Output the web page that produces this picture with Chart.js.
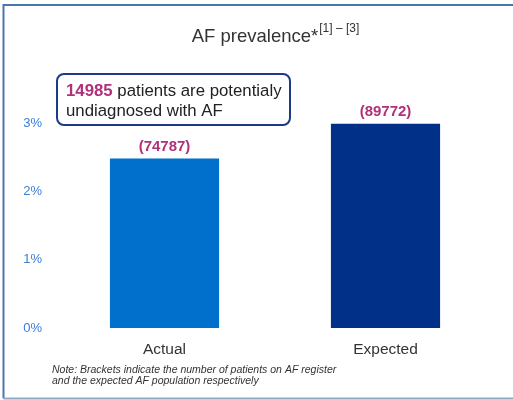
<!DOCTYPE html>
<html>
<head>
<meta charset="utf-8">
<script src="https://cdn.jsdelivr.net/npm/chart.js@4.4.1/dist/chart.umd.min.js"></script>
<style>
  html, body { margin: 0; padding: 0; background: #fff; }
  #wrap { width: 513px; height: 400px; position: relative; }
</style>
</head>
<body>
<div id="wrap"><canvas id="afChart"></canvas></div>
<script>
// --- data ---
const categories = ['Actual', 'Expected'];
const prevalence = [2.48, 2.99];          // % of population
const patientCounts = ['(74787)', '(89772)'];
const yTicks = [0, 1, 2, 3];
const undiagnosed = '14985';

const barColors = ['#0070cc', '#003087'];
const magenta = '#b0307a';
const FONT = '"Liberation Sans", Arial, sans-serif';

// frame, title, callout box and the footnote
const decorations = {
    id: 'decorations',
    beforeDraw(chart) {
        const ctx = chart.ctx;
        ctx.save();
        ctx.fillStyle = '#fff';
        ctx.fillRect(0, 0, chart.width, chart.height);
        ctx.restore();
    },
    afterDraw(chart) {
        const ctx = chart.ctx;
        ctx.save();

        // outer frame (right side runs off the picture)
        ctx.strokeStyle = '#4a76ac';
        ctx.lineWidth = 2;
        ctx.beginPath();
        ctx.moveTo(chart.width + 5, 5);
        ctx.lineTo(3.5, 5);
        ctx.lineTo(3.5, 398.5);
        ctx.stroke();
        ctx.strokeStyle = '#8fa9c6';
        ctx.beginPath();
        ctx.moveTo(3.5, 398.5);
        ctx.lineTo(chart.width + 5, 398.5);
        ctx.stroke();

        // title with superscript refs
        ctx.fillStyle = '#333';
        ctx.textBaseline = 'alphabetic';
        ctx.textAlign = 'left';
        ctx.font = '18.5px ' + FONT;
        const main = 'AF prevalence*';
        const sup = '[1] \u2013 [3]';
        const mw = ctx.measureText(main).width;
        ctx.font = '12px ' + FONT;
        const sw = ctx.measureText(sup).width;
        const tx = 275 - (mw + sw) / 2;
        ctx.font = '18.5px ' + FONT;
        ctx.fillText(main, tx, 42);
        ctx.font = '12px ' + FONT;
        ctx.fillText(sup, tx + mw + 1, 32);

        // callout box
        const bx = 57, by = 74, bw = 233, bh = 51, r = 7;
        ctx.beginPath();
        ctx.roundRect(bx, by, bw, bh, r);
        ctx.fillStyle = '#fff';
        ctx.fill();
        ctx.lineWidth = 2;
        ctx.strokeStyle = '#1b3a87';
        ctx.stroke();

        ctx.font = 'bold 16.8px ' + FONT;
        ctx.fillStyle = magenta;
        ctx.fillText(undiagnosed, 66, 96);
        const nw = ctx.measureText(undiagnosed).width;
        ctx.font = '16.8px ' + FONT;
        ctx.fillStyle = '#222';
        ctx.fillText(' patients are potentialy', 66 + nw, 96);
        ctx.fillText('undiagnosed with AF', 66, 116);

        // note
        ctx.font = 'italic 10.5px ' + FONT;
        ctx.fillStyle = '#333';
        ctx.fillText('Note: Brackets indicate the number of patients on AF register', 52, 373);
        ctx.fillText('and the expected AF population respectively', 52, 384);

        ctx.restore();
    }
};

// counts above bars
const barLabels = {
    id: 'barLabels',
    afterDatasetsDraw(chart) {
        const ctx = chart.ctx;
        const meta = chart.getDatasetMeta(0);
        ctx.save();
        ctx.font = 'bold 15px ' + FONT;
        ctx.fillStyle = magenta;
        ctx.textAlign = 'center';
        ctx.textBaseline = 'bottom';
        meta.data.forEach((bar, i) => {
            ctx.fillText(patientCounts[i], bar.x, bar.y - 4);
        });
        ctx.restore();
    }
};

new Chart(document.getElementById('afChart'), {
    type: 'bar',
    data: {
        labels: categories,
        datasets: [{
            data: prevalence,
            backgroundColor: barColors,
            borderWidth: 0,
            barPercentage: 0.494,
            categoryPercentage: 1
        }]
    },
    options: {
        responsive: true,
        maintainAspectRatio: false,
        animation: false,
        layout: {
            padding: { top: 123, left: 10, right: 17, bottom: 40 }
        },
        plugins: {
            legend: { display: false },
            tooltip: { enabled: false }
        },
        scales: {
            x: {
                grid: { display: false, drawTicks: false },
                border: { display: false },
                ticks: {
                    color: '#333',
                    font: { family: FONT, size: 15.5 },
                    padding: 12
                },
                afterFit: (axis) => { axis.height = 32; }
            },
            y: {
                min: 0,
                max: 3,
                grid: { display: false, drawTicks: false },
                border: { display: false },
                afterBuildTicks: (axis) => {
                    axis.ticks = yTicks.map(v => ({ value: v }));
                },
                ticks: {
                    color: '#3b7dd8',
                    font: { family: FONT, size: 13 },
                    padding: 12,
                    callback: (v) => v + '%'
                },
                afterFit: (axis) => { axis.width = 44; }
            }
        }
    },
    plugins: [decorations, barLabels]
});
</script>
</body>
</html>
